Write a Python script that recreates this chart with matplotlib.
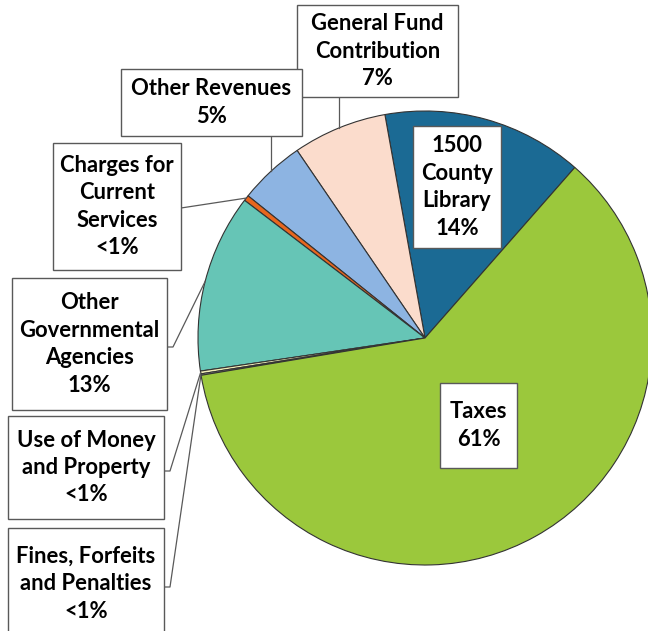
import matplotlib
matplotlib.use("Agg")
import matplotlib.pyplot as plt
import numpy as np
from matplotlib.patches import Rectangle

# Revenue shares (percent), counter-clockwise starting from the top-right
categories = ["1500 County Library", "General Fund Contribution", "Other Revenues",
              "Charges for Current Services", "Other Governmental Agencies",
              "Use of Money and Property", "Fines, Forfeits and Penalties", "Taxes"]
values = [14.3, 6.7, 4.7, 0.4, 12.7, 0.2, 0.1, 60.9]
labels = ["1500\nCounty\nLibrary\n14%", "General Fund\nContribution\n7%",
          "Other Revenues\n5%", "Charges for\nCurrent\nServices\n<1%",
          "Other\nGovernmental\nAgencies\n13%", "Use of Money\nand Property\n<1%",
          "Fines, Forfeits\nand Penalties\n<1%", "Taxes\n61%"]
colors = ["#1b6a94", "#fbdccc", "#8db4e2", "#e8661e", "#66c5b6",
          "#f3efb8", "#d9d9d9", "#9bc83c"]

W, H = 648, 631
fig = plt.figure(figsize=(W / 100, H / 100), dpi=100)
ax = fig.add_axes([0, 0, 1, 1])

cx, cy, r = 425, H - 338, 227
wedges, _ = ax.pie(values, colors=colors, startangle=48.7, counterclock=True,
                   center=(cx, cy), radius=r, frame=True,
                   wedgeprops=dict(edgecolor="#333333", linewidth=0.8))
ax.set_xlim(0, W)
ax.set_ylim(0, H)
ax.set_aspect("equal")
ax.axis("off")


def edge_point(w):
    a = np.deg2rad((w.theta1 + w.theta2) / 2)
    return cx + r * np.cos(a), cy + r * np.sin(a)


# label boxes in pixel coords (left, top, right, bottom), top-left origin
boxes = [(413, 126, 501, 248), (297, 5, 458, 97), (121, 69, 302, 136),
         (53, 143, 181, 270), (12, 278, 167, 410), (8, 416, 164, 519),
         (8, 528, 164, 640), (440, 383, 517, 468)]

font = dict(family=["Lato", "DejaVu Sans"], fontweight="bold", fontsize=15.8,
            color="black")
for lab, (x0, y0, x1, y1) in zip(labels, boxes):
    ax.add_patch(Rectangle((x0, H - y1), x1 - x0, y1 - y0, facecolor="white",
                           edgecolor="#595959", linewidth=1.0, zorder=3))
    ax.text((x0 + x1) / 2, H - (y0 + y1) / 2, lab, ha="center", va="center",
            linespacing=1.38, zorder=4, **font)

lc = dict(color="#595959", lw=0.9, zorder=2)
# vertical leaders from boxes above the pie
for i in (1, 2):
    px, py = edge_point(wedges[i])
    x0, y0, x1, y1 = boxes[i]
    ax.plot([px, px], [H - y1, py], **lc)
# charges: straight from box side
px, py = edge_point(wedges[3])
ax.plot([boxes[3][2], px], [H - 208, py], **lc)
# left side boxes: short elbow then diagonal
for i, ly in ((4, 347), (5, 471), (6, 587)):
    px, py = edge_point(wedges[i])
    bx = boxes[i][2]
    ax.plot([bx, bx + 6, px], [H - ly, H - ly, py], **lc)

fig.savefig("out.png", dpi=100)
